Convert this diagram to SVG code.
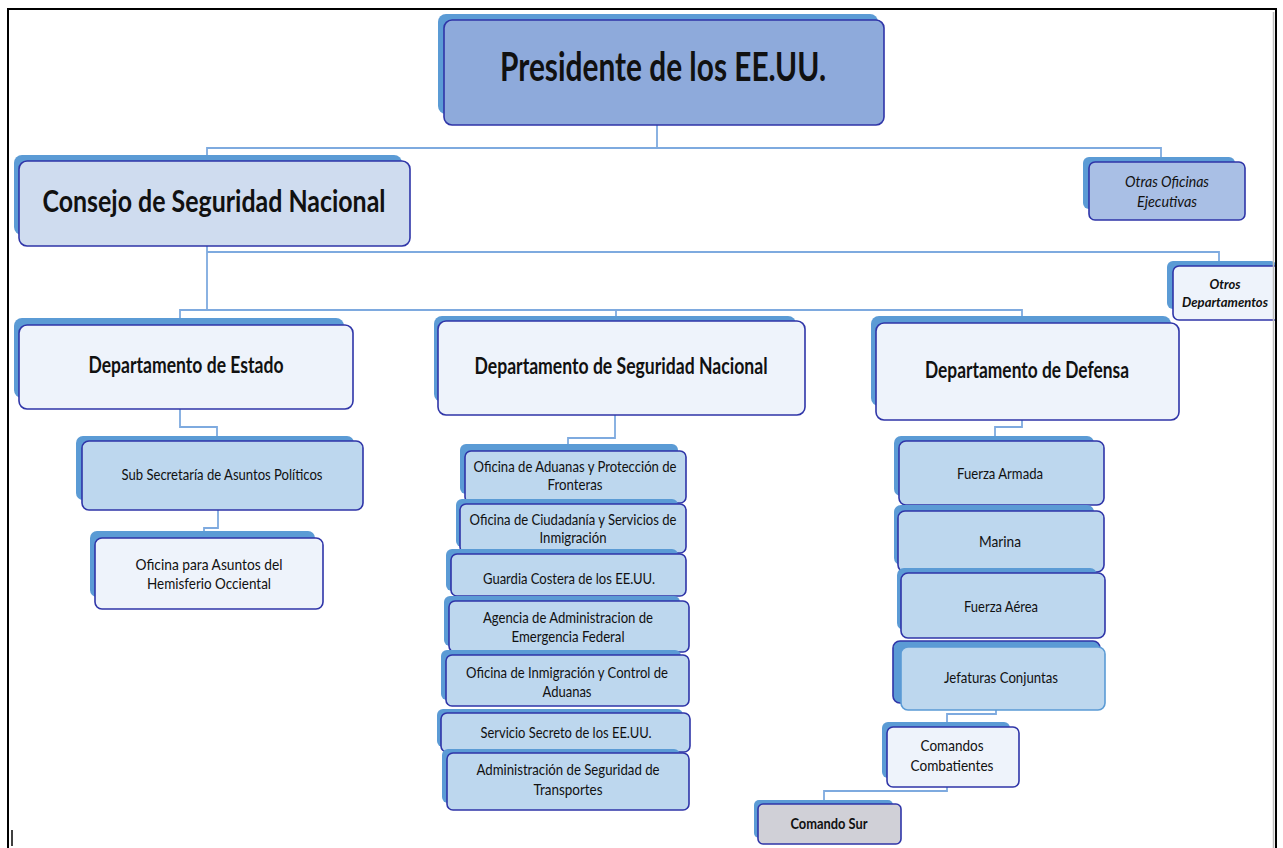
<svg xmlns="http://www.w3.org/2000/svg" width="1283" height="848" viewBox="0 0 1283 848">
<style>
  .sh { fill: #5b9bd5; }
  .bx { stroke: #2f35a8; stroke-width: 1.6; }
  .dark { fill: #8eaadb; }
  .mid { fill: #bdd7ee; }
  .pale { fill: #eef3fb; }
  .cons { fill: #cfdcef; }
  .otras { fill: #a9bfe5; }
  .grey { fill: #d0d0d7; }
  text { font-family: Lato, "Open Sans", "Liberation Sans", sans-serif; fill: #111; text-anchor: middle; }
  .t { font-size: 15px; }
  .b { font-weight: bold; }
  .i { font-style: italic; }
  .con { fill: none; stroke: #7eaadf; stroke-width: 1.8; }
</style>
<rect width="1283" height="848" fill="#fff"/>
<g id="connectors" class="con">
  <path d="M657,125 V148"/>
  <path d="M207,158 V148 H1161 V157"/>
  <path d="M207,246 V310"/>
  <path d="M207,252 H1219 V262"/>
  <path d="M180,318 V310 H1022 V318"/>
  <path d="M616,310 V316"/>
  <path d="M180,409 V427 H217 V436"/>
  <path d="M218,510 V528 H204 V531"/>
  <path d="M615,415 V438 H568 V444"/>
  <path d="M1022,420 V427 H995 V436"/>
  <path d="M996,710 V714 H947 V722"/>
  <path d="M947,787 V791 H824 V800"/>
</g>
<g id="presidente">
  <rect class="sh" x="438" y="14" width="440" height="100" rx="8"/>
  <rect class="bx dark" x="444" y="20" width="440" height="105" rx="8"/>
  <text class="b" x="663" y="81" font-size="40" textLength="326" lengthAdjust="spacingAndGlyphs">Presidente de los EE.UU.</text>
</g>
<g id="consejo">
  <rect class="sh" x="14" y="155" width="388" height="80" rx="8"/>
  <rect class="bx cons" x="19" y="161" width="391" height="85" rx="8"/>
  <text class="b" x="214" y="212" font-size="30" textLength="343" lengthAdjust="spacingAndGlyphs">Consejo de Seguridad Nacional</text>
</g>
<g id="otras-oficinas">
  <rect class="sh" x="1083" y="157" width="152" height="52" rx="6"/>
  <rect class="bx otras" x="1089" y="162" width="156" height="58" rx="6"/>
  <text class="t i" x="1167" y="187" textLength="84" lengthAdjust="spacingAndGlyphs">Otras Oficinas</text>
  <text class="t i" x="1167" y="207" textLength="60" lengthAdjust="spacingAndGlyphs">Ejecutivas</text>
</g>
<g id="otros-departamentos">
  <rect class="sh" x="1167" y="261" width="110" height="48" rx="6"/>
  <rect class="bx pale" x="1173" y="266" width="112" height="54" rx="6"/>
  <text class="b i" font-size="14" x="1225" y="289" textLength="31" lengthAdjust="spacingAndGlyphs">Otros</text>
  <text class="b i" font-size="14" x="1225" y="307" textLength="86" lengthAdjust="spacingAndGlyphs">Departamentos</text>
</g>
<g id="dep-estado">
  <rect class="sh" x="14" y="318" width="330" height="80" rx="8"/>
  <rect class="bx pale" x="19" y="325" width="334" height="84" rx="8"/>
  <text class="b" x="186" y="373" font-size="22" textLength="195" lengthAdjust="spacingAndGlyphs">Departamento de Estado</text>
</g>
<g id="dep-seguridad">
  <rect class="sh" x="434" y="316" width="362" height="86" rx="8"/>
  <rect class="bx pale" x="438" y="321" width="367" height="94" rx="8"/>
  <text class="b" x="621" y="374" font-size="22" textLength="293" lengthAdjust="spacingAndGlyphs">Departamento de Seguridad Nacional</text>
</g>
<g id="dep-defensa">
  <rect class="sh" x="871" y="316" width="300" height="90" rx="8"/>
  <rect class="bx pale" x="876" y="323" width="303" height="97" rx="8"/>
  <text class="b" x="1027" y="378" font-size="22" textLength="204" lengthAdjust="spacingAndGlyphs">Departamento de Defensa</text>
</g>
<g id="sub-secretaria">
  <rect class="sh" x="76" y="436" width="278" height="64" rx="7"/>
  <rect class="bx mid" x="82" y="441" width="281" height="69" rx="7"/>
  <text class="t" x="222" y="480" textLength="201" lengthAdjust="spacingAndGlyphs">Sub Secretaría de Asuntos Políticos</text>
</g>
<g id="oficina-hemisferio">
  <rect class="sh" x="90" y="531" width="225" height="66" rx="7"/>
  <rect class="bx pale" x="95" y="538" width="228" height="71" rx="7"/>
  <text class="t" x="209" y="570" textLength="147" lengthAdjust="spacingAndGlyphs">Oficina para Asuntos del</text>
  <text class="t" x="209" y="589" textLength="124" lengthAdjust="spacingAndGlyphs">Hemisferio Occiental</text>
</g>
<g id="aduanas-fronteras">
  <rect class="sh" x="460" y="444" width="218" height="50" rx="6"/>
  <rect class="bx mid" x="465" y="451" width="221" height="52" rx="6"/>
  <text class="t" x="575" y="472" textLength="203" lengthAdjust="spacingAndGlyphs">Oficina de Aduanas y Protección de</text>
  <text class="t" x="575" y="490" textLength="55" lengthAdjust="spacingAndGlyphs">Fronteras</text>
</g>
<g id="ciudadania">
  <rect class="sh" x="456" y="499" width="222" height="48" rx="6"/>
  <rect class="bx mid" x="460" y="504" width="226" height="49" rx="6"/>
  <text class="t" x="573" y="525" textLength="207" lengthAdjust="spacingAndGlyphs">Oficina de Ciudadanía y Servicios de</text>
  <text class="t" x="573" y="543" textLength="67" lengthAdjust="spacingAndGlyphs">Inmigración</text>
</g>
<g id="guardia-costera">
  <rect class="sh" x="446" y="549" width="232" height="42" rx="6"/>
  <rect class="bx mid" x="451" y="554" width="235" height="42" rx="6"/>
  <text class="t" x="569" y="584" textLength="172" lengthAdjust="spacingAndGlyphs">Guardia Costera de los EE.UU.</text>
</g>
<g id="fema">
  <rect class="sh" x="444" y="596" width="236" height="50" rx="6"/>
  <rect class="bx mid" x="449" y="601" width="240" height="51" rx="6"/>
  <text class="t" x="568" y="623" textLength="170" lengthAdjust="spacingAndGlyphs">Agencia de Administracion de</text>
  <text class="t" x="568" y="642" textLength="113" lengthAdjust="spacingAndGlyphs">Emergencia Federal</text>
</g>
<g id="inmigracion-aduanas">
  <rect class="sh" x="441" y="650" width="240" height="50" rx="6"/>
  <rect class="bx mid" x="446" y="655" width="243" height="51" rx="6"/>
  <text class="t" x="567" y="678" textLength="202" lengthAdjust="spacingAndGlyphs">Oficina de Inmigración y Control de</text>
  <text class="t" x="567" y="697" textLength="49" lengthAdjust="spacingAndGlyphs">Aduanas</text>
</g>
<g id="servicio-secreto">
  <rect class="sh" x="437" y="709" width="246" height="38" rx="6"/>
  <rect class="bx mid" x="441" y="713" width="249" height="39" rx="6"/>
  <text class="t" x="566" y="738" textLength="171" lengthAdjust="spacingAndGlyphs">Servicio Secreto de los EE.UU.</text>
</g>
<g id="seguridad-transportes">
  <rect class="sh" x="442" y="749" width="238" height="54" rx="6"/>
  <rect class="bx mid" x="447" y="753" width="242" height="57" rx="6"/>
  <text class="t" x="568" y="775" textLength="183" lengthAdjust="spacingAndGlyphs">Administración de Seguridad de</text>
  <text class="t" x="568" y="795" textLength="69" lengthAdjust="spacingAndGlyphs">Transportes</text>
</g>
<g id="fuerza-armada">
  <rect class="sh" x="894" y="436" width="200" height="60" rx="7"/>
  <rect class="bx mid" x="899" y="441" width="205" height="64" rx="7"/>
  <text class="t" x="1000" y="479" textLength="86" lengthAdjust="spacingAndGlyphs">Fuerza Armada</text>
</g>
<g id="marina">
  <rect class="sh" x="894" y="505" width="200" height="60" rx="7"/>
  <rect class="bx mid" x="898" y="511" width="206" height="61" rx="7"/>
  <text class="t" x="1000" y="547" textLength="42" lengthAdjust="spacingAndGlyphs">Marina</text>
</g>
<g id="fuerza-aerea">
  <rect class="sh" x="897" y="568" width="200" height="62" rx="7"/>
  <rect class="bx mid" x="901" y="573" width="204" height="65" rx="7"/>
  <text class="t" x="1001" y="612" textLength="74" lengthAdjust="spacingAndGlyphs">Fuerza Aérea</text>
</g>
<g id="jefaturas-conjuntas">
  <rect class="sh bx" x="893" y="641" width="207" height="62" rx="7"/>
  <rect class="mid" x="901" y="647" width="204" height="63" rx="7" stroke="#5b9bd5" stroke-width="1.6"/>
  <text class="t" x="1001" y="683" textLength="114" lengthAdjust="spacingAndGlyphs">Jefaturas Conjuntas</text>
</g>
<g id="comandos-combatientes">
  <rect class="sh" x="882" y="722" width="128" height="56" rx="6"/>
  <rect class="bx pale" x="887" y="727" width="132" height="60" rx="6"/>
  <text class="t" x="952" y="751" textLength="63" lengthAdjust="spacingAndGlyphs">Comandos</text>
  <text class="t" x="952" y="771" textLength="83" lengthAdjust="spacingAndGlyphs">Combatientes</text>
</g>
<g id="comando-sur">
  <rect class="sh" x="754" y="800" width="139" height="38" rx="5"/>
  <rect class="bx grey" x="758" y="804" width="143" height="40" rx="5"/>
  <text class="t b" x="829" y="829" textLength="77" lengthAdjust="spacingAndGlyphs">Comando Sur</text>
</g>
<g id="frame" fill="none">
  <rect x="1277" y="10" width="6" height="838" fill="#fff"/>
  <path d="M8,848 V9 H1276 V848" stroke="#000" stroke-width="2"/>
  <path d="M1273.5,12 V848" stroke="#bbb" stroke-width="1.5"/>
  <path d="M12,830 V846" stroke="#000" stroke-width="1.5"/>
</g>
</svg>
